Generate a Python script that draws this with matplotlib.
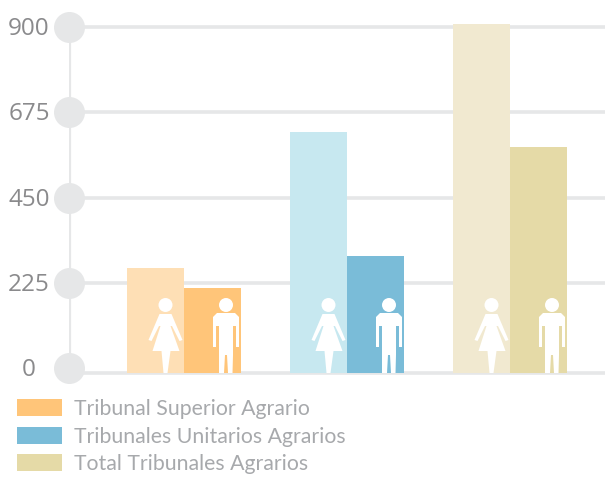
"""Bars by agrarian court, women vs men, with white pictograms on the bars."""
import numpy as np
import matplotlib; matplotlib.use("Agg")
import matplotlib.pyplot as plt
from matplotlib.patches import Circle, Polygon
from matplotlib.transforms import Affine2D, blended_transform_factory

W, H = 605, 478
TICKS = [0, 225, 450, 675, 900]
LABELS = ["Tribunal Superior Agrario", "Tribunales Unitarios Agrarios", "Total Tribunales Agrarios"]
WOMEN = [264, 623, 908]
MEN = [211, 296, 583]
BASE = -13  # bars and the bottom rule sit a little under the zero marker
WOMEN_COL = ["#fedfb5", "#c7e8f0", "#f1e9d0"]
MEN_COL = ["#ffc579", "#7abcd8", "#e5daa7"]

# pictograms in px, origin at feet centre, y up
WOMAN = [(-6, 59), (6, 59), (17, 33), (14, 32), (6.5, 47), (5, 47), (14, 22), (5, 22), (2, 0), (-2, 0),
         (-4, 22), (-13, 22), (-5, 47), (-6.5, 47), (-14, 32), (-17, 33)]
MAN = [(-9, 60), (9, 60), (13, 56), (13, 26), (10, 26), (10, 47), (7, 47), (7, 18), (6.5, 0), (2, 0),
       (1, 18), (-1, 18), (-2, 0), (-7, 0), (-7, 47), (-10, 47), (-10, 26), (-13, 26), (-13, 56)]


def icon(ax, pts, x_data, off):
    x0, y0 = ax.transData.transform((x_data, BASE))
    tr = Affine2D().translate(x0 + off, y0)
    ax.add_patch(Polygon(pts, closed=True, fc="white", ec="none", transform=tr, zorder=5, clip_on=False))
    ax.add_patch(Circle((0, 68), 7, fc="white", ec="none", transform=tr, zorder=5, clip_on=False))


def main():
    fig = plt.figure(figsize=(W / 100, H / 100), dpi=100)
    # axes: x=69px is the axis line, y=368px is zero, 341px per 900
    ax = fig.add_axes([69 / W, (H - 373) / H, (W - 69) / W, 373 / H])
    ax.set_xlim((69 - 184) / 163, (605 - 184) / 163)
    ax.set_ylim(BASE, 368 / 341 * 900)
    ax.axis("off")

    x = np.arange(3)
    bw = 57 / 163
    x0, x1 = ax.get_xlim()
    ax.hlines(TICKS[1:] + [BASE], x0, x1, color="#e6e7e8", lw=2.6, zorder=1, clip_on=False)
    ax.vlines(x0, 0, 900, color="#e6e7e8", lw=2.3, zorder=1)
    ax.bar(x - bw / 2, np.array(WOMEN) - BASE, bw, bottom=BASE, color=WOMEN_COL, zorder=3)
    men = ax.bar(x + bw / 2, np.array(MEN) - BASE, bw, bottom=BASE, color=MEN_COL, zorder=3)

    ax.scatter([x0] * 5, TICKS, s=498, c="#e6e7e8", linewidths=0, zorder=2, clip_on=False)
    tr = blended_transform_factory(fig.transFigure, ax.transData)
    for t in TICKS:
        ax.annotate(str(t), (29 / W, t), xycoords=tr, xytext=(0, -1.5), textcoords="offset points",
                    ha="center", va="center", fontsize=17.5, family="Open Sans", color="#8a8a8c")

    for i in x:
        icon(ax, WOMAN, i, -18.5)
        icon(ax, MAN, i, 42)

    fs = 15.3
    fpx = fs * 100 / 72
    ax.legend(men, LABELS, loc="upper left", bbox_to_anchor=(17 / W, (H - 399) / H),
              bbox_transform=fig.transFigure, frameon=False, borderpad=0, borderaxespad=0,
              handlelength=45 / fpx, handleheight=18 / fpx, handletextpad=12 / fpx,
              labelspacing=0.36, labelcolor="#a7a9ac", prop={"family": "Lato", "size": fs})
    fig.savefig("out.png", dpi=100)


if __name__ == "__main__":
    main()
